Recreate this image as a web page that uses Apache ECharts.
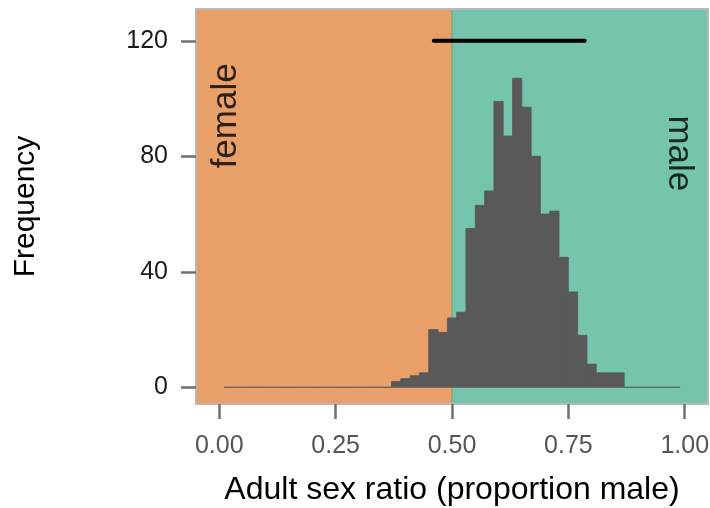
<!DOCTYPE html>
<html>
<head>
<meta charset="utf-8">
<script src="https://cdn.jsdelivr.net/npm/echarts@6/dist/echarts.min.js"></script>
<style>
  html, body { margin: 0; padding: 0; background: #ffffff; }
  #chart { width: 710px; height: 508px; }
</style>
</head>
<body>
<div id="chart"></div>
<script>
// Histogram of posterior adult sex ratio draws (bin width 0.02)
const binWidth = 0.02;
const binCenters = [
  0.02, 0.04, 0.06, 0.08, 0.10, 0.12, 0.14, 0.16, 0.18, 0.20,
  0.22, 0.24, 0.26, 0.28, 0.30, 0.32, 0.34, 0.36, 0.38, 0.40,
  0.42, 0.44, 0.46, 0.48, 0.50, 0.52, 0.54, 0.56, 0.58, 0.60,
  0.62, 0.64, 0.66, 0.68, 0.70, 0.72, 0.74, 0.76, 0.78, 0.80,
  0.82, 0.84, 0.86, 0.88, 0.90, 0.92, 0.94, 0.96, 0.98
];
const binCounts = [
  0, 0, 0, 0, 0, 0, 0, 0, 0, 0,
  0, 0, 0, 0, 0, 0, 0, 0, 2, 3,
  4, 5, 20, 19, 24, 26, 55, 63, 68, 99,
  87, 107, 97, 80, 60, 61, 45, 33, 18, 8,
  5, 5, 5, 0, 0, 0, 0, 0, 0
];

// 95% interval of the ratio, drawn as a bar at the top
const intervalLow = 0.461;
const intervalHigh = 0.785;
const intervalLevel = 120;

// Shaded halves: female-biased below 0.5, male-biased above
const parityRatio = 0.5;
const regionLabels = ['female', 'male'];

const xTicks = [0, 0.25, 0.5, 0.75, 1];
const yTicks = [0, 40, 80, 120];

const xRange = [-0.05, 1.05];
const yRange = [-5.8, 131];

const FONT = '"Liberation Sans", Arial, Helvetica, sans-serif';
const femaleFill = '#E89F68';
const maleFill = '#75C4AE';
const barFill = '#595959';
const borderColor = '#b8b8b8';
const tickColor = '#707070';

const histData = binCenters.map((c, i) => [c, binCounts[i]]);

const chart = echarts.init(document.getElementById('chart'), null, { renderer: 'canvas' });

const borderAxis = {
  show: true,
  onZero: false,
  lineStyle: { color: borderColor, width: 2 }
};

chart.setOption({
  animation: false,
  backgroundColor: '#ffffff',
  grid: { left: 196, right: 2, top: 9, bottom: 104, containLabel: false, outerBoundsMode: 'none' },
  xAxis: [
    {
      type: 'value',
      min: xRange[0],
      max: xRange[1],
      position: 'bottom',
      z: 10,
      name: 'Adult sex ratio (proportion male)',
      nameLocation: 'middle',
      nameGap: 70,
      nameTextStyle: { fontFamily: FONT, fontSize: 32, color: '#000000' },
      axisLine: borderAxis,
      axisTick: {
        show: true,
        inside: false,
        length: 15,
        customValues: xTicks,
        lineStyle: { color: tickColor, width: 2.5 }
      },
      axisLabel: {
        show: true,
        customValues: xTicks,
        margin: 30,
        fontFamily: FONT,
        fontSize: 25,
        color: '#555555',
        formatter: v => v.toFixed(2)
      },
      splitLine: { show: false }
    },
    {
      type: 'value',
      min: xRange[0],
      max: xRange[1],
      position: 'top',
      z: 10,
      axisLine: borderAxis,
      axisTick: { show: false },
      axisLabel: { show: false },
      splitLine: { show: false }
    }
  ],
  yAxis: [
    {
      type: 'value',
      min: yRange[0],
      max: yRange[1],
      position: 'left',
      z: 10,
      name: 'Frequency',
      nameLocation: 'middle',
      nameGap: 155,
      nameTextStyle: { fontFamily: FONT, fontSize: 30, color: '#000000' },
      axisLine: borderAxis,
      axisTick: {
        show: true,
        inside: false,
        length: 15,
        customValues: yTicks,
        lineStyle: { color: tickColor, width: 2.5 }
      },
      axisLabel: {
        show: true,
        customValues: yTicks,
        margin: 28,
        fontFamily: FONT,
        fontSize: 25,
        color: '#1a1a1a'
      },
      splitLine: { show: false }
    },
    {
      type: 'value',
      min: yRange[0],
      max: yRange[1],
      position: 'right',
      z: 10,
      axisLine: borderAxis,
      axisTick: { show: false },
      axisLabel: { show: false },
      splitLine: { show: false }
    }
  ],
  series: [
    {
      // background halves
      type: 'line',
      data: [],
      z: 1,
      silent: true,
      markArea: {
        silent: true,
        data: [
          [{ xAxis: xRange[0], itemStyle: { color: femaleFill } }, { xAxis: parityRatio }],
          [{ xAxis: parityRatio, itemStyle: { color: maleFill } }, { xAxis: xRange[1] }]
        ]
      }
    },
    {
      // divider at parity, kept beneath the bars
      type: 'line',
      z: 2,
      silent: true,
      symbol: 'none',
      data: [[parityRatio, yRange[0]], [parityRatio, yRange[1]]],
      lineStyle: { color: '#5ea877', width: 1 }
    },
    {
      // histogram bars; empty bins show as a hairline at zero
      type: 'custom',
      z: 3,
      silent: true,
      data: histData,
      renderItem: function (params, api) {
        const x = api.value(0);
        const c = api.value(1);
        const top = api.coord([x - binWidth / 2, c]);
        const base = api.coord([x + binWidth / 2, 0]);
        if (c === 0) {
          return {
            type: 'line',
            shape: { x1: top[0], y1: base[1], x2: base[0], y2: base[1] },
            style: { stroke: barFill, lineWidth: 1.2 }
          };
        }
        return {
          type: 'rect',
          shape: { x: top[0], y: top[1], width: base[0] - top[0], height: base[1] - top[1] },
          style: { fill: barFill, stroke: barFill, lineWidth: 0.8 }
        };
      }
    },
    {
      type: 'line',
      z: 4,
      silent: true,
      symbol: 'none',
      data: [[intervalLow, intervalLevel], [intervalHigh, intervalLevel]],
      lineStyle: { color: '#000000', width: 4, cap: 'round' }
    },
    {
      type: 'scatter',
      z: 5,
      silent: true,
      symbolSize: 1,
      itemStyle: { color: 'rgba(0,0,0,0)' },
      data: [
        { value: [0.015, 94], label: { formatter: regionLabels[0], rotate: 90 } },
        { value: [0.988, 81], label: { formatter: regionLabels[1], rotate: -90 } }
      ],
      label: {
        show: true,
        position: 'inside',
        align: 'center',
        verticalAlign: 'middle',
        fontFamily: FONT,
        fontSize: 35,
        color: '#000000'
      }
    }
  ]
});
</script>
</body>
</html>
